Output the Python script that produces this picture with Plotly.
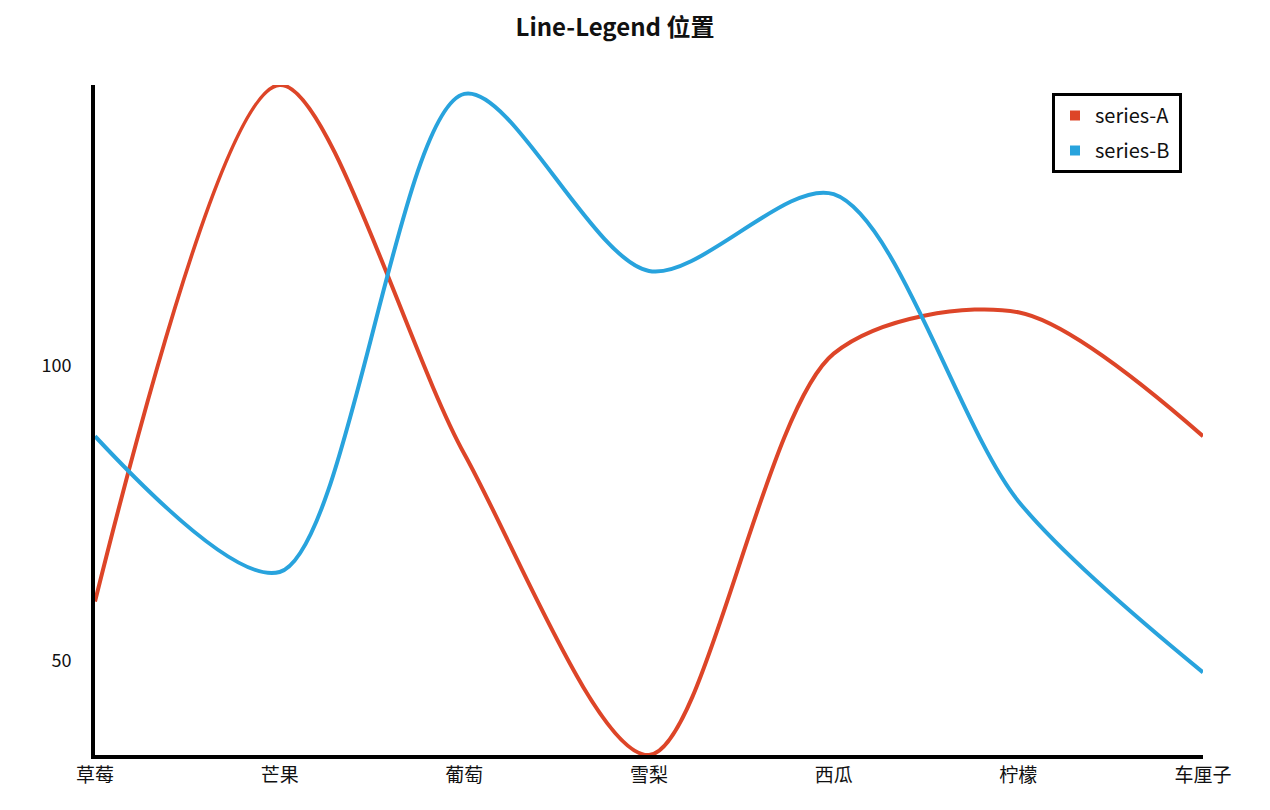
import plotly.graph_objects as go

categories = ["草莓", "芒果", "葡萄", "雪梨", "西瓜", "柠檬", "车厘子"]
series_a = [60, 147.5, 85, 34, 102, 109, 88]
series_b = [88, 65, 146, 116, 129, 77, 48]
y_ticks = [50, 100]
names = ["series-A", "series-B"]
colors = ["#dd4528", "#28a3dd"]

# page body has an 8px margin; compensate so plot lands at the target pixels
OFF = 8
L, R, T, B = 95, 1203, 85, 755

xs = list(range(len(categories)))
fig = go.Figure()
for name, vals, c in zip(names, [series_a, series_b], colors):
    fig.add_trace(go.Scatter(x=xs, y=vals, mode="lines", name=name,
                             line=dict(color=c, width=4, shape="spline", smoothing=0.85),
                             showlegend=False, hoverinfo="skip"))
for name, c in zip(names, colors):
    fig.add_trace(go.Scatter(x=[None], y=[None], mode="markers", name=name + " ",
                             legendgroup=name,
                             marker=dict(symbol="square", size=10, color=c)))

all_vals = series_a + series_b
fig.update_layout(
    width=1270, height=810,
    margin=dict(l=L - OFF, r=1270 + OFF - R, t=T - OFF, b=810 + OFF - B),
    paper_bgcolor="white", plot_bgcolor="white",
    font=dict(family="Noto Sans CJK SC, Noto Sans, sans-serif", color="#111"),
    title=dict(text="<b>Line-Legend 位置</b>", x=(615 - OFF) / 1270, xanchor="center",
               y=1 - (28 - OFF) / 810, yanchor="middle", font=dict(size=24, color="#111")),
    xaxis=dict(range=[0, len(categories) - 1], tickvals=xs, ticktext=categories,
               showgrid=False, zeroline=False, showline=True, linecolor="black",
               linewidth=4, ticks="", tickfont=dict(size=19), ticklabelstandoff=0),
    yaxis=dict(range=[min(all_vals), max(all_vals)], tickvals=y_ticks,
               showgrid=False, zeroline=False, showline=True, linecolor="black",
               linewidth=4, ticks="", tickfont=dict(size=18), ticklabelstandoff=16),
    legend=dict(x=(1052 - L) / (R - L), y=1 - (93 - T) / (B - T),
                xanchor="left", yanchor="top", bordercolor="black", borderwidth=3,
                bgcolor="white", font=dict(size=20), itemwidth=30,
                tracegroupgap=6),
)
fig.write_html("out.html")
